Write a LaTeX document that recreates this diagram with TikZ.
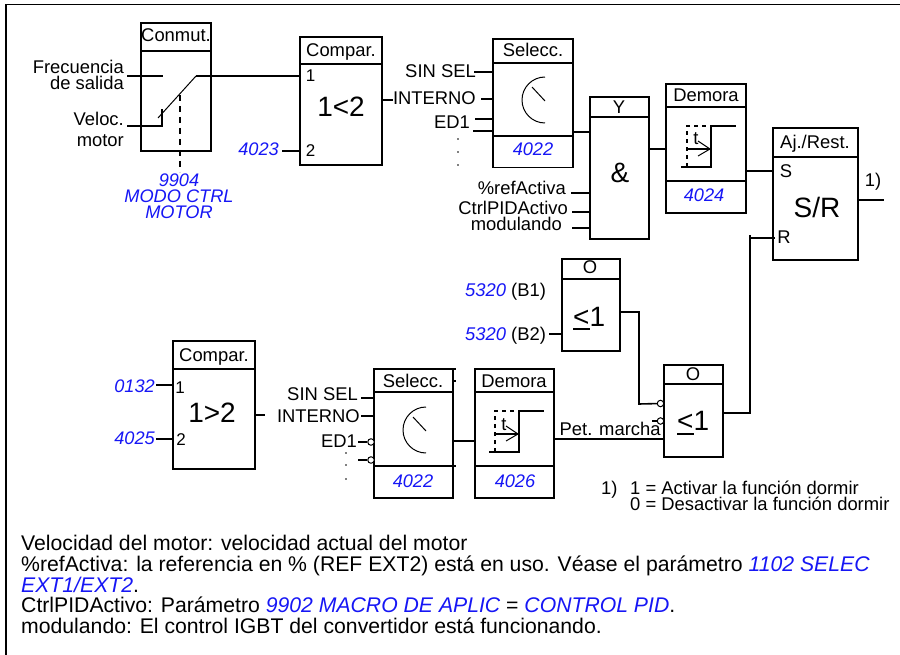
\documentclass[tikz,border=0pt]{standalone}
\usepackage{fontspec}
\setmainfont{Liberation Sans}
\definecolor{parblue}{RGB}{22,22,245}
\newcommand{\blockbox}[5]{%
  \pgfmathsetmacro\bw{#4-#2}\pgfmathsetmacro\bh{#5-#3}%
  \node[blk,minimum width=\bw pt,minimum height=\bh pt] (#1) at ({(#2+#4)/2},{(#3+#5)/2}) {};}
\newcommand{\divider}[2]{\draw[wire] (#1.west |- 0,#2) -- (#1.east |- 0,#2);}
\newcommand{\stepsym}[2]{%
  \begin{scope}[shift={(#1,#2)}]
    \draw[wire] (681,167) -- (711,167) -- (711,126) -- (736,126);
    \draw[wire,dash pattern=on 4pt off 4pt] (687,167) -- (687,126) -- (706,126);
    \draw[wire] (687,149) -- (710,149);
    \draw[thin line] (698,141) -- (710,149) -- (698,156);
    \node[txt] at (696,145) {t};
  \end{scope}}
\newcommand{\dialsym}[2]{%
  \begin{scope}[shift={(#1,#2)}]
    \draw[thin line] (545,77) arc[start angle=-90,end angle=-270,radius=23];
    \draw[thin line] (532,87) -- (545,101);
  \end{scope}}
\tikzset{
  x=1pt,y=-1pt,
  wire/.style={line width=1.6pt},
  thin line/.style={line width=1pt},
  blk/.style={draw,line width=1.6pt,inner sep=0pt,outer sep=0pt},
  txt/.style={anchor=base,inner sep=0pt,font=\fontsize{18.4}{18}\selectfont},
  txtr/.style={txt,anchor=base east},
  txtl/.style={txt,anchor=base west},
  par/.style={text=parblue,font=\fontsize{18.2}{18}\selectfont\itshape},
  digit/.style={txt,font=\fontsize{17}{17}\selectfont},
  big/.style={anchor=base,inner sep=0pt,font=\fontsize{28}{28}\selectfont},
  note/.style={anchor=base west,inner sep=0pt,font=\fontsize{21.2}{21}\selectfont},
  small/.style={anchor=base west,inner sep=0pt,font=\fontsize{18.4}{16}\selectfont},
  bubble/.style={circle,draw,fill=white,line width=1pt,inner sep=0pt,minimum size=6.5pt},
}
\begin{document}
\begin{tikzpicture}
\useasboundingbox (0,0) rectangle (900,655);
% frame: top and left only
\coordinate (fa) at (900,4.5); \coordinate (fb) at (6,4.5); \coordinate (fc) at (6,655);
\draw[wire] (fa) -- (fb) -- (fc);

% ---- boxes
\blockbox{sw}{141}{23}{211}{151}   \divider{sw}{51}
\blockbox{cmpa}{300}{37}{382}{165} \divider{cmpa}{64}
\blockbox{sela}{493}{39}{573}{167.5} \divider{sela}{63} \divider{sela}{136}
\blockbox{yand}{590}{97}{649}{239} \divider{yand}{117}
\blockbox{dema}{666}{84}{746}{213} \divider{dema}{107} \divider{dema}{181}
\blockbox{sr}{773}{128}{858}{260}  \divider{sr}{157}
\blockbox{ora}{562}{259}{620}{351} \divider{ora}{279}
\blockbox{orb}{664}{365}{723}{457} \divider{orb}{384}
\blockbox{cmpb}{173}{341}{255}{469} \divider{cmpb}{369}
\blockbox{selb}{374}{369}{453}{498} \divider{selb}{392} \divider{selb}{466}
\blockbox{demb}{475}{369}{554}{498} \divider{demb}{392} \divider{demb}{466}

% little overshoots on the lower selector
\coordinate (ta) at (455.5,369); \coordinate (tb) at (455.5,466); \coordinate (tc) at (455.5,381);
\draw[wire] (selb.north east) -- (ta);
\draw[wire] (selb.east |- tb) -- (tb);
\draw[wire] (selb.east |- tc) -- (tc);

% ---- titles
\node[txt] at (176,42) {Conmut.};
\node[txt] at (341,57) {Compar.};
\node[txt] at (533,57) {Selecc.};
\node[txt] at (619,114) {Y};
\node[txt] at (706,102) {Demora};
\node[txt] at (815,149) {Aj./Rest.};
\node[txt] at (590,274) {O};
\node[txt] at (693,380) {O};
\node[txt] at (214,361) {Compar.};
\node[txt] at (413,387) {Selecc.};
\node[txt] at (514,387) {Demora};

% ---- switch
\node[txtr] (lfreq) at (124,74) {Frecuencia};
\node[txtr] (lsal) at (124,90) {de salida};
\node[txtr] (lvel) at (124,126) {Veloc.};
\node[txtr] (lmot) at (124,147) {motor};
\coordinate (f1) at (127,76); \coordinate (f2) at (163,76);
\coordinate (v1) at (127,126); \coordinate (v2) at (162,126); \coordinate (v3) at (162,109);
\coordinate (s1) at (158,118); \coordinate (s2) at (196,76);
\draw[wire] (f1) -- (f2);
\draw[wire] (v1) -- (v2) -- (v3);
\draw[thin line] (s1) -- (s2);
\draw[wire] (s2) -- (cmpa.west |- s2);
\coordinate (d1) at (180,95); \coordinate (d2) at (180,172);
\draw[wire,dash pattern=on 6pt off 5pt] (d1) -- (d2);
\node[txt,par] (p9904) at (179,187) {9904};
\node[txt,par] at (179,203) {MODO CTRL};
\node[txt,par] at (179,219) {MOTOR};

% ---- first comparator
\node[txtr,par] (p4023) at (279,156) {4023};
\coordinate (c2) at (282,151);
\draw[wire] (c2) -- (cmpa.west |- c2);
\node[digit] at (310.5,81.5) {1};
\node[digit] at (310.5,156.5) {2};
\node[big] at (341,117) {1<2};
\coordinate (c3) at (393,100);
\draw[wire] (cmpa.east |- c3) -- (c3);

% ---- first selector
\node[txtr] (lsin) at (476,78) {SIN SEL};
\node[txtr] (lint) at (476,105) {INTERNO};
\node[txtr] (led) at (470,129) {ED1};
\coordinate (i1) at (474,72); \coordinate (i2) at (481,99); \coordinate (i3) at (475,119); \coordinate (i4) at (473,131);
\draw[wire] (i1) -- (sela.west |- i1);
\draw[wire] (i2) -- (sela.west |- i2);
\draw[wire] (i3) -- (sela.west |- i3);
\draw[wire] (i4) -- (sela.west |- i4);
\foreach \yy in {139,152,165}{\fill (458,\yy) circle[radius=0.9];}
\dialsym{0}{0}
\node[txt,par] at (533,156) {4022};
\coordinate (o1) at (573,132);
\draw[wire] (sela.east |- o1) -- (yand.west |- o1);

% ---- AND
\node[txtr] (lref) at (566,195) {\%refActiva};
\node[txtr] (lpid) at (568,215) {CtrlPIDActivo};
\node[txtr] (lmod) at (562,231) {modulando};
\coordinate (a1) at (571,193); \coordinate (a2) at (572,212); \coordinate (a3) at (572,228);
\draw[wire] (a1) -- (yand.west |- a1);
\draw[wire] (a2) -- (yand.west |- a2);
\draw[wire] (a3) -- (yand.west |- a3);
\node[big] at (620,183) {\&};
\coordinate (o2) at (649,149);
\draw[wire] (yand.east |- o2) -- (dema.west |- o2);

% ---- first delay
\stepsym{0}{0}
\node[txt,par] at (704,202) {4024};
\coordinate (o3) at (746,171);
\draw[wire] (dema.east |- o3) -- (sr.west |- o3);

% ---- S/R
\node[txt] at (786,178) {S};
\node[big] at (817,218) {S/R};
\node[txt] at (784,244) {R};
\coordinate (o4) at (884,200);
\draw[wire] (sr.east |- o4) -- (o4);
\node[txt] at (873,187) {1)};

% ---- second comparator
\node[txtr,par] (p0132) at (155,392) {0132};
\node[txtr,par] (p4025) at (155,444) {4025};
\coordinate (b1) at (156,385); \coordinate (b2) at (156,439);
\draw[wire] (b1) -- (cmpb.west |- b1);
\draw[wire] (b2) -- (cmpb.west |- b2);
\node[digit] at (180,393.5) {1};
\node[digit] at (181,445.5) {2};
\node[big] at (212,422) {1>2};
\coordinate (b3) at (265,415);
\draw[wire] (cmpb.east |- b3) -- (b3);

% ---- second selector
\node[txtr] at (358,400) {SIN SEL};
\node[txtr] at (360,422) {INTERNO};
\node[txtr] at (357,447) {ED1};
\coordinate (j1) at (361,398); \coordinate (j2) at (361,416); \coordinate (j3) at (358,442); \coordinate (j4) at (358,460);
\draw[wire] (j1) -- (selb.west |- j1);
\draw[wire] (j2) -- (selb.west |- j2);
\node[bubble] (bu1) at (371,442) {};
\node[bubble] (bu2) at (371,460) {};
\draw[wire] (j3) -- (bu1);
\draw[wire] (j4) -- (bu2);
\foreach \yy in {453,465,479}{\fill (346,\yy) circle[radius=0.9];}
\dialsym{-119}{330}
\node[txt,par] at (413,487) {4022};
\coordinate (o5) at (453,441);
\draw[wire] (selb.east |- o5) -- (demb.west |- o5);

% ---- second delay
\stepsym{-192}{285}
\node[txt,par] at (515,487) {4026};
\node[txtl] at (559.5,435) {Pet. marcha};
\coordinate (o6) at (554,439);
\draw[wire] (demb.east |- o6) -- (orb.west |- o6);

% ---- OR gates
\node[txtl] (n1a) at (465,297) {\textcolor{parblue}{\itshape 5320} (B1)};
\node[txtl] (n1b) at (465,340) {\textcolor{parblue}{\itshape 5320} (B2)};
\coordinate (g1) at (549,334);
\draw[wire] (g1) -- (ora.west |- g1);
\node[big,anchor=base west] at (573,326) {<1};
\coordinate (u1) at (573,329); \coordinate (u2) at (590,329);
\draw[line width=2pt] (u1) -- (u2);
\node[bubble] (bu3) at (660.5,403.5) {};
\node[bubble] (bu4) at (660.5,421) {};
\coordinate (g2) at (620,312); \coordinate (g3) at (639,312); \coordinate (g4) at (639,404);
\draw[wire] (g2) -- (g3) -- (g4) -- (bu3);
\coordinate (g5) at (652,421);
\draw[wire] (g5) -- (bu4);
\node[big,anchor=base west] at (677,430) {<1};
\coordinate (u3) at (677,434); \coordinate (u4) at (694,434);
\draw[line width=2pt] (u3) -- (u4);
\coordinate (g6) at (723,413); \coordinate (g7) at (750,413); \coordinate (g8) at (750,235); \coordinate (g9) at (750,238); \coordinate (g10) at (775,238);
\draw[wire] (orb.east |- g6) -- (g7) -- (g8);
\draw[wire] (g9) -- (g10);

% ---- footnote
\node[small] at (601,494) {1)};
\node[small] at (630,494) {1 = Activar la función dormir};
\node[small] at (630,510) {0 = Desactivar la función dormir};

% ---- legend
\node[note] at (21,550.5) {Velocidad del motor: velocidad actual del motor};
\node[note] at (21,571.5) {\%refActiva: la referencia en \% (REF EXT2) está en uso. Véase el parámetro \textcolor{parblue}{\itshape 1102 SELEC}};
\node[note] at (21,592.5) {\textcolor{parblue}{\itshape EXT1/EXT2}.};
\node[note] at (21,612.5) {CtrlPIDActivo: Parámetro \textcolor{parblue}{\itshape 9902 MACRO DE APLIC} = \textcolor{parblue}{\itshape CONTROL PID}.};
\node[note] at (21,633.5) {modulando: El control IGBT del convertidor está funcionando.};
\end{tikzpicture}
\end{document}
